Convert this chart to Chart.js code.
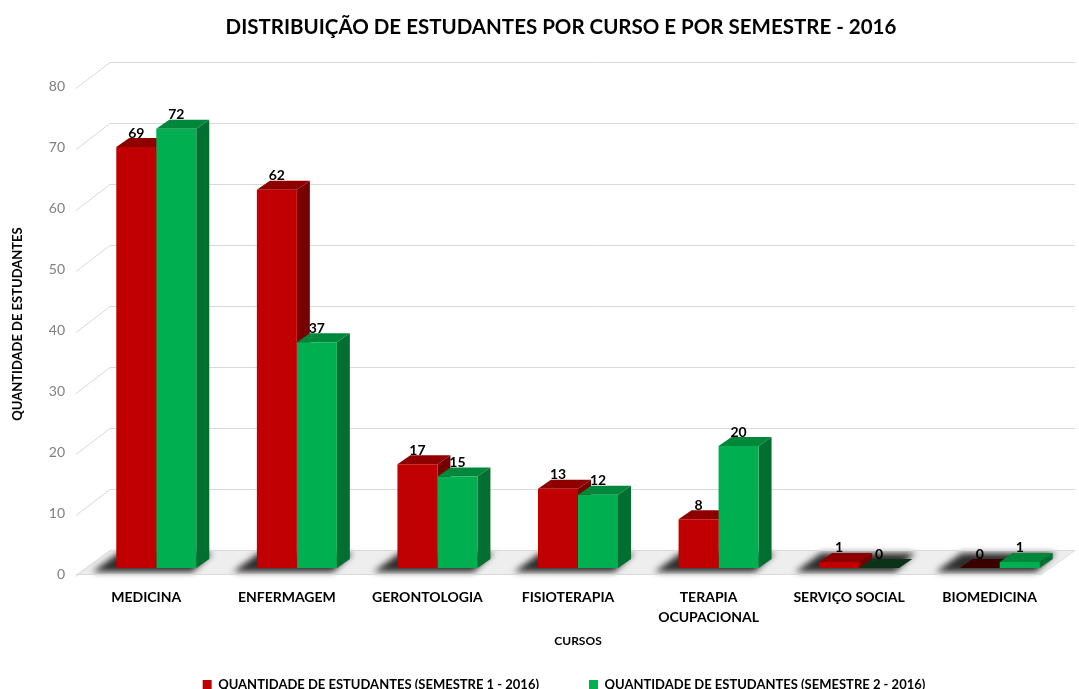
<!DOCTYPE html>
<html>
<head>
<meta charset="utf-8">
<title>Distribuição de estudantes por curso</title>
<script src="https://cdn.jsdelivr.net/npm/chart.js@4.4.1/dist/chart.umd.min.js"></script>
<style>
  html, body { margin: 0; padding: 0; background: #fff; }
  #wrap { width: 1079px; height: 689px; }
</style>
</head>
<body>
<div id="wrap"><canvas id="cursosChart"></canvas></div>
<script>
// Dados
const categorias = ['MEDICINA', 'ENFERMAGEM', 'GERONTOLOGIA', 'FISIOTERAPIA', ['TERAPIA', 'OCUPACIONAL'], 'SERVIÇO SOCIAL', 'BIOMEDICINA'];
const semestre1 = [69, 62, 17, 13, 8, 1, 0];
const semestre2 = [72, 37, 15, 12, 20, 0, 1];
const nomesSeries = ['QUANTIDADE DE ESTUDANTES (SEMESTRE 1 - 2016)', 'QUANTIDADE DE ESTUDANTES (SEMESTRE 2 - 2016)'];
const eixoY = { min: 0, max: 80, passo: 10 };

// cores: frente, topo, lado, topo quando valor = 0
const coresS1 = { frente: '#c00000', topo: '#8e0000', lado: '#760000', zero: '#3a0000' };
const coresS2 = { frente: '#00b050', topo: '#00873c', lado: '#006f30', zero: '#0a3318' };

const FONTE = 'Lato, "Open Sans", sans-serif';
const prof = { dx: 13, dy: -9 }; // profundidade das barras

// Efeito 3D: parede com grelha, chao com sombra, topo e lado das barras
const efeito3d = {
  id: 'efeito3d',
  beforeDatasetsDraw(chart) {
    const ctx = chart.ctx;
    const y = chart.scales.y;
    const area = chart.chartArea;
    ctx.save();

    // chao
    const y0 = y.getPixelForValue(0);
    ctx.fillStyle = '#eeeeee';
    ctx.beginPath();
    ctx.moveTo(area.left - 10, y0 + 6);
    ctx.lineTo(area.right - 29, y0 + 6);
    ctx.lineTo(area.right + 5, y0 - 18);
    ctx.lineTo(area.left + 24, y0 - 18);
    ctx.closePath();
    ctx.fill();

    // sombras por curso
    const m0 = chart.getDatasetMeta(0), m1 = chart.getDatasetMeta(1);
    ctx.save();
    ctx.filter = 'blur(3px)';
    ctx.fillStyle = 'rgba(35,35,35,0.95)';
    m0.data.forEach((b, j) => {
      const l = b.x - b.width / 2;
      const r = m1.data[j].x + m1.data[j].width / 2;
      ctx.beginPath();
      ctx.moveTo(l - 24, y0 + 4);
      ctx.lineTo(r - 4, y0 + 4);
      ctx.lineTo(r + 16, y0 - 15);
      ctx.lineTo(l + 2, y0 - 15);
      ctx.closePath();
      ctx.fill();
    });
    ctx.restore();

    // grelha na parede
    ctx.strokeStyle = '#d9d9d9';
    ctx.lineWidth = 1;
    y.ticks.forEach(t => {
      const py = Math.round(y.getPixelForValue(t.value)) + 0.5;
      ctx.beginPath();
      ctx.moveTo(area.left - 10, py + 8);
      ctx.lineTo(area.left + 24, py - 18);
      ctx.lineTo(area.right + 5, py - 18);
      ctx.stroke();
    });
    // borda da frente do chao
    ctx.beginPath();
    ctx.moveTo(area.left - 10, Math.round(y0) + 6.5);
    ctx.lineTo(area.right - 29, Math.round(y0) + 6.5);
    ctx.lineTo(area.right + 5, Math.round(y0) - 17.5);
    ctx.stroke();

    // lado e topo das barras
    chart.data.datasets.forEach((ds, i) => {
      const meta = chart.getDatasetMeta(i);
      meta.data.forEach((bar, j) => {
        const l = bar.x - bar.width / 2, r = bar.x + bar.width / 2;
        const t = bar.y, b = bar.base;
        ctx.fillStyle = ds.cores.lado;
        ctx.beginPath();
        ctx.moveTo(r, t);
        ctx.lineTo(r + prof.dx, t + prof.dy);
        ctx.lineTo(r + prof.dx, b + prof.dy);
        ctx.lineTo(r, b);
        ctx.closePath();
        ctx.fill();

        ctx.fillStyle = ds.data[j] === 0 ? ds.cores.zero : ds.cores.topo;
        ctx.beginPath();
        ctx.moveTo(l, t);
        ctx.lineTo(r, t);
        ctx.lineTo(r + prof.dx, t + prof.dy);
        ctx.lineTo(l + prof.dx, t + prof.dy);
        ctx.closePath();
        ctx.fill();
      });
    });
    ctx.restore();
  },
  afterDatasetsDraw(chart) {
    const ctx = chart.ctx;
    ctx.save();
    ctx.font = 'bold 14px ' + FONTE;
    ctx.fillStyle = '#000';
    ctx.textAlign = 'center';
    ctx.textBaseline = 'middle';
    chart.data.datasets.forEach((ds, i) => {
      chart.getDatasetMeta(i).data.forEach((bar, j) => {
        ctx.fillText(String(ds.data[j]), bar.x, bar.y - 14);
      });
    });
    ctx.restore();
  },
  afterLayout(chart) {
    // titulo e legenda um pouco a direita, como no original
    chart.titleBlock.left += 26;
    chart.titleBlock.right += 26;
    chart.legend.left += 29;
    chart.legend.right += 29;
  }
};

const ctx = document.getElementById('cursosChart').getContext('2d');
new Chart(ctx, {
  type: 'bar',
  data: {
    labels: categorias,
    datasets: [
      { label: nomesSeries[0], data: semestre1, backgroundColor: coresS1.frente, cores: coresS1, borderWidth: 0 },
      { label: nomesSeries[1], data: semestre2, backgroundColor: coresS2.frente, cores: coresS2, borderWidth: 0 }
    ]
  },
  options: {
    responsive: true,
    maintainAspectRatio: false,
    animation: false,
    layout: { padding: { left: 0, right: 9, top: 0, bottom: -12 } },
    datasets: { bar: { barPercentage: 1, categoryPercentage: 0.569 } },
    plugins: {
      title: {
        display: true,
        text: 'DISTRIBUIÇÃO DE ESTUDANTES POR CURSO E POR SEMESTRE - 2016',
        color: '#000',
        font: { family: FONTE, size: 20.5, weight: 'bold', lineHeight: 1.2 },
        padding: { top: 15, bottom: 40.4 }
      },
      legend: {
        position: 'bottom',
        labels: {
          color: '#000',
          font: { family: FONTE, size: 13, weight: 'bold' },
          boxWidth: 9,
          boxHeight: 9,
          padding: 50
        }
      },
      tooltip: { enabled: false }
    },
    scales: {
      x: {
        grid: { display: false, drawTicks: false },
        border: { display: false },
        ticks: {
          color: '#000',
          font: { family: FONTE, size: 14, weight: 'bold', lineHeight: 1.4 },
          padding: 20,
          labelOffset: -10,
          maxRotation: 0,
          autoSkip: false
        },
        title: {
          display: true,
          text: 'CURSOS',
          color: '#000',
          font: { family: FONTE, size: 12, weight: 'bold' },
          padding: { top: 0, bottom: -20 }
        },
        afterFit(s) { s.height = 60; }
      },
      y: {
        min: eixoY.min,
        max: eixoY.max,
        grid: { display: false, drawTicks: false },
        border: { display: false },
        ticks: {
          stepSize: eixoY.passo,
          color: '#808080',
          font: { family: FONTE, size: 14 },
          padding: 21,
          labelOffset: 6
        },
        title: {
          display: true,
          text: 'QUANTIDADE DE ESTUDANTES',
          color: '#000',
          font: { family: FONTE, size: 13, weight: 'bold' },
          padding: { top: 10, bottom: 0 }
        },
        afterFit(s) { s.width = 86; }
      }
    }
  },
  plugins: [efeito3d]
});
</script>
</body>
</html>
